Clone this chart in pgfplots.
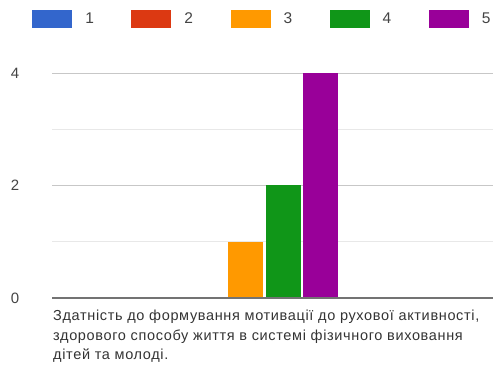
\documentclass[border=0pt]{standalone}
\usepackage{pgfplots}
\pgfplotsset{compat=1.18}
\usepackage{fontspec}
\setmainfont{Liberation Sans}
\definecolor{c1}{HTML}{3366CC}
\definecolor{c2}{HTML}{DC3912}
\definecolor{c3}{HTML}{FF9900}
\definecolor{c4}{HTML}{109618}
\definecolor{c5}{HTML}{990099}
\definecolor{tick}{HTML}{444444}
\begin{document}
\begin{tikzpicture}
\useasboundingbox (-52pt,-73pt) rectangle (441pt,298pt);
\begin{axis}[
  at={(0,0)}, anchor=south west,
  scale only axis,
  width=441pt, height=225pt,
  xmin=0, xmax=441,
  ymin=0, ymax=4,
  axis line style={draw=none},
  ybar, bar width=35, bar shift=0pt,
  ytick={0,2,4},
  minor ytick={1,3},
  ymajorgrids, yminorgrids,
  major grid style={draw=black!22, line width=0.8pt},
  minor grid style={draw=black!9, line width=0.8pt},
  major tick length=0pt, minor tick length=0pt,
  yticklabels={},
  ytick style={draw=none},
  xtick=\empty,
  legend columns=5,
  legend style={draw=none, at={(0.477,1.24)}, anchor=center,
    font=\fontsize{15.5}{15.5}\selectfont, text=tick,
    /tikz/every even column/.append style={column sep=35.5pt},
    /tikz/every odd column/.append style={column sep=11pt}},
  legend image code/.code={\fill[#1] (0pt,-9pt) rectangle (40pt,9pt);},
  clip=false,
]
\addplot[fill=c1, draw=none] coordinates {(118.5,0)};
\addplot[fill=c2, draw=none] coordinates {(156,0)};
\addplot[fill=c3, draw=none] coordinates {(193.5,1)};
\addplot[fill=c4, draw=none] coordinates {(231,2)};
\addplot[fill=c5, draw=none] coordinates {(268.5,4)};
\legend{1,2,3,4,5}
\draw[black!55, line width=1.6pt] (axis cs:0,0) -- (axis cs:441,0);
\end{axis}
\foreach \v/\y in {0/0,2/112.5,4/225}{
  \node[font=\fontsize{15}{15}\selectfont, text=tick] at (-37pt,\y pt) {\v};
}
\node[anchor=north west, inner sep=0pt, align=left, text=black!80,
  font=\fontsize{14.5}{19.5}\selectfont\addfontfeatures{LetterSpace=4.5}] at (1pt,-12pt)
  {Здатність до формування мотивації до рухової активності,\\
   здорового способу життя в системі фізичного виховання\\
   дітей та молоді.};
\end{tikzpicture}
\end{document}
